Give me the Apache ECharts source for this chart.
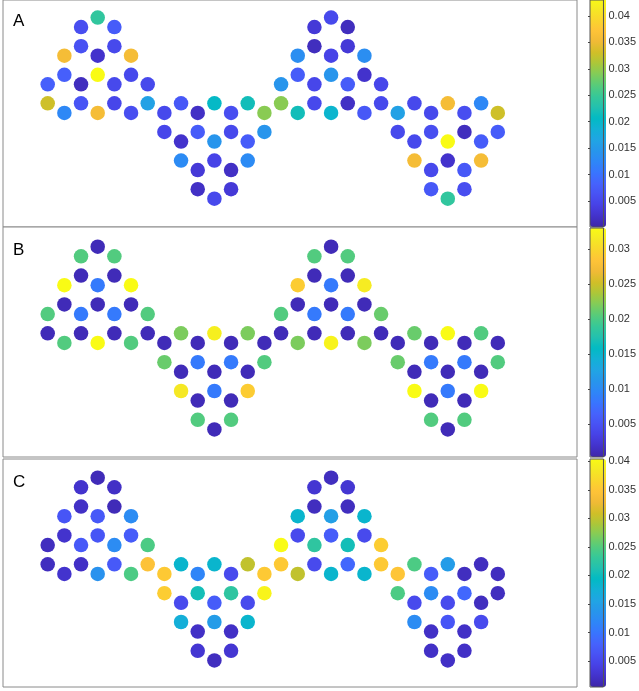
<!DOCTYPE html>
<html>
<head>
<meta charset="utf-8">
<script src="https://cdn.jsdelivr.net/npm/echarts@6/dist/echarts.min.js"></script>
<style>
  html, body { margin: 0; padding: 0; background: #fff; }
  #chart { width: 639px; height: 691px; }
</style>
</head>
<body>
<div id="chart"></div>
<script>
// Honeycomb lattice sites: column index (half-cell steps) and row index (half-bond steps).
// Four triangular flakes: upright, inverted, upright, inverted.
const siteCols = [
  3, 2,4, 2,4, 1,3,5, 1,3,5, 0,2,4,6, 0,2,4,6, 1,3,5,
  8,10,12, 7,9,11,13, 7,9,11,13, 8,10,12, 8,10,12, 9,11, 9,11, 10,
  17, 16,18, 16,18, 15,17,19, 15,17,19, 14,16,18,20, 14,16,18,20, 15,17,19,
  22,24,26, 21,23,25,27, 21,23,25,27, 22,24,26, 22,24,26, 23,25, 23,25, 24
];
const siteRows = [
  0, 1,1, 3,3, 4,4,4, 6,6,6, 7,7,7,7, 9,9,9,9, 10,10,10,
  9,9,9, 10,10,10,10, 12,12,12,12, 13,13,13, 15,15,15, 16,16, 18,18, 19,
  0, 1,1, 3,3, 4,4,4, 6,6,6, 7,7,7,7, 9,9,9,9, 10,10,10,
  9,9,9, 10,10,10,10, 12,12,12,12, 13,13,13, 15,15,15, 16,16, 18,18, 19
];

const valuesA = [
  0.0240, 0.0057,0.0074, 0.0061,0.0052, 0.0355,0.0022,0.0355, 0.0078,0.0430,0.0052, 0.0078,0.0014,0.0052,0.0052, 0.0326,0.0065,0.0048,0.0159, 0.0125,0.0355,0.0057,
  0.0069,0.0202,0.0215, 0.0052,0.0018,0.0057,0.0291, 0.0048,0.0074,0.0052,0.0142, 0.0022,0.0142,0.0074, 0.0129,0.0044,0.0129, 0.0031,0.0018, 0.0018,0.0031, 0.0052,
  0.0052, 0.0031,0.0014, 0.0014,0.0031, 0.0133,0.0044,0.0133, 0.0074,0.0142,0.0022, 0.0142,0.0048,0.0074,0.0048, 0.0291,0.0052,0.0018,0.0052, 0.0215,0.0193,0.0069,
  0.0052,0.0355,0.0125, 0.0159,0.0052,0.0057,0.0326, 0.0052,0.0057,0.0014,0.0074, 0.0052,0.0430,0.0074, 0.0355,0.0022,0.0355, 0.0052,0.0069, 0.0069,0.0057, 0.0240
];
const valuesB = [
  0.0010, 0.0203,0.0203, 0.0010,0.0010, 0.0330,0.0085,0.0330, 0.0010,0.0010,0.0010, 0.0203,0.0085,0.0085,0.0203, 0.0010,0.0010,0.0010,0.0010, 0.0203,0.0330,0.0203,
  0.0219,0.0320,0.0219, 0.0010,0.0010,0.0010,0.0010, 0.0212,0.0085,0.0085,0.0203, 0.0010,0.0010,0.0010, 0.0314,0.0085,0.0291, 0.0010,0.0010, 0.0203,0.0203, 0.0010,
  0.0010, 0.0203,0.0203, 0.0010,0.0010, 0.0291,0.0085,0.0317, 0.0010,0.0010,0.0010, 0.0203,0.0085,0.0085,0.0212, 0.0010,0.0010,0.0010,0.0010, 0.0219,0.0323,0.0219,
  0.0212,0.0330,0.0203, 0.0010,0.0010,0.0010,0.0010, 0.0212,0.0085,0.0085,0.0203, 0.0010,0.0010,0.0010, 0.0330,0.0085,0.0330, 0.0010,0.0010, 0.0203,0.0203, 0.0010
];
const valuesC = [
  0.0013, 0.0025,0.0021, 0.0021,0.0013, 0.0065,0.0069,0.0125, 0.0025,0.0065,0.0073, 0.0017,0.0069,0.0125,0.0245, 0.0017,0.0021,0.0069,0.0345, 0.0025,0.0133,0.0245,
  0.0185,0.0185,0.0301, 0.0353,0.0117,0.0053,0.0353, 0.0357,0.0205,0.0225,0.0397, 0.0053,0.0073,0.0053, 0.0173,0.0145,0.0185, 0.0021,0.0021, 0.0029,0.0029, 0.0017,
  0.0017, 0.0029,0.0029, 0.0017,0.0017, 0.0185,0.0149,0.0185, 0.0053,0.0073,0.0053, 0.0404,0.0225,0.0205,0.0357, 0.0353,0.0053,0.0085,0.0353, 0.0301,0.0185,0.0185,
  0.0245,0.0145,0.0017, 0.0349,0.0073,0.0017,0.0017, 0.0245,0.0125,0.0085,0.0017, 0.0053,0.0053,0.0017, 0.0125,0.0065,0.0053, 0.0021,0.0021, 0.0021,0.0021, 0.0021
];

// Colour-scale limits and colorbar tick labels for each panel
const panelNames = ['A', 'B', 'C'];
const rangeA = [0.0001, 0.0430];
const rangeB = [0.0003, 0.0330];
const rangeC = [0.00045, 0.0404];
const ticksA = [0.005, 0.01, 0.015, 0.02, 0.025, 0.03, 0.035, 0.04];
const ticksB = [0.005, 0.01, 0.015, 0.02, 0.025, 0.03];
const ticksC = [0.005, 0.01, 0.015, 0.02, 0.025, 0.03, 0.035, 0.04];

// parula colormap, sampled evenly
const parula = ['#3E26A8','#4332CB','#4741E5','#4852F4','#4563FD','#3875FE','#2E87F7','#2796EB',
  '#20A5E3','#12B1D6','#02BAC3','#24C1AE','#37C897','#57CC7A','#81CC59','#ABC739',
  '#D1BF27','#F0BA36','#FEC338','#FAD62D','#F5E924','#F9FB15'];

const allValues = [valuesA, valuesB, valuesC];
const allRanges = [rangeA, rangeB, rangeC];
const allTicks = [ticksA, ticksB, ticksC];

// Layout of the three stacked panels (pixels)
const panelBoxes = [
  { top: -2, height: 229, row0: 15.7 },
  { top: 227, height: 230, row0: 246.7 },
  { top: 459, height: 228, row0: 477.7 }
];
const barBoxes = [
  { top: -2, height: 229 },
  { top: 228, height: 229 },
  { top: 459, height: 228 }
];
const panelLeft = 3, panelWidth = 574;
const colPx = 16.67, rowPx = 9.62, col0Px = 47.7;
const xMin = -(col0Px - panelLeft) / colPx;
const xMax = xMin + panelWidth / colPx;

const grids = [], xAxes = [], yAxes = [], series = [], visualMaps = [], titles = [];
const FONT = 'Liberation Sans, Arial, Helvetica, sans-serif';

for (let p = 0; p < 3; p++) {
  const box = panelBoxes[p];
  const yMin = -(box.row0 - box.top) / rowPx;
  const yMax = yMin + box.height / rowPx;
  grids.push({ left: panelLeft, top: box.top, width: panelWidth, height: box.height,
    show: true, borderColor: '#8a8a8a', borderWidth: 1, backgroundColor: '#fff' });
  xAxes.push({ gridIndex: p, type: 'value', min: xMin, max: xMax, show: false });
  yAxes.push({ gridIndex: p, type: 'value', min: yMin, max: yMax, inverse: true, show: false });
  series.push({
    type: 'scatter', xAxisIndex: p, yAxisIndex: p,
    symbolSize: 14.5,
    itemStyle: { opacity: 1 },
    data: siteCols.map((c, i) => [c, siteRows[i], allValues[p][i]]),
    silent: true
  });
  visualMaps.push({
    type: 'continuous', seriesIndex: p, dimension: 2,
    min: allRanges[p][0], max: allRanges[p][1],
    inRange: { color: parula },
    calculable: false, show: true, realtime: false, hoverLink: false,
    left: 590, top: barBoxes[p].top, itemWidth: 16, itemHeight: barBoxes[p].height,
    padding: 0, text: null, orient: 'vertical', z: 2
  });
  titles.push({ text: panelNames[p], left: 8, top: p === 0 ? 8 : box.top + 10,
    textStyle: { fontFamily: FONT, fontSize: 17, fontWeight: 'normal', color: '#000' } });
}

// Colorbar axes: one grid per bar, ticks just inside the right edge, labels to the right
for (let p = 0; p < 3; p++) {
  const gi = 3 + p;
  grids.push({ left: 590, top: barBoxes[p].top, width: 16, height: barBoxes[p].height,
    show: true, borderColor: '#555', borderWidth: 1, z: 10 });
  xAxes.push({ gridIndex: gi, type: 'value', min: 0, max: 1, show: false });
  yAxes.push({
    gridIndex: gi, type: 'value', position: 'right', z: 10,
    min: allRanges[p][0], max: allRanges[p][1],
    axisLine: { show: false }, splitLine: { show: false },
    axisTick: { show: true, inside: true, length: 2, customValues: allTicks[p], lineStyle: { color: '#444' } },
    axisLabel: { show: true, customValues: allTicks[p], margin: 5, fontFamily: FONT, fontSize: 11, color: '#333',
      formatter: v => String(+v.toFixed(4)) }
  });
}

const chart = echarts.init(document.getElementById('chart'), null, { renderer: 'canvas' });
chart.setOption({
  animation: false,
  backgroundColor: '#fff',
  title: titles,
  grid: grids,
  xAxis: xAxes,
  yAxis: yAxes,
  visualMap: visualMaps,
  series: series
});
</script>
</body>
</html>
